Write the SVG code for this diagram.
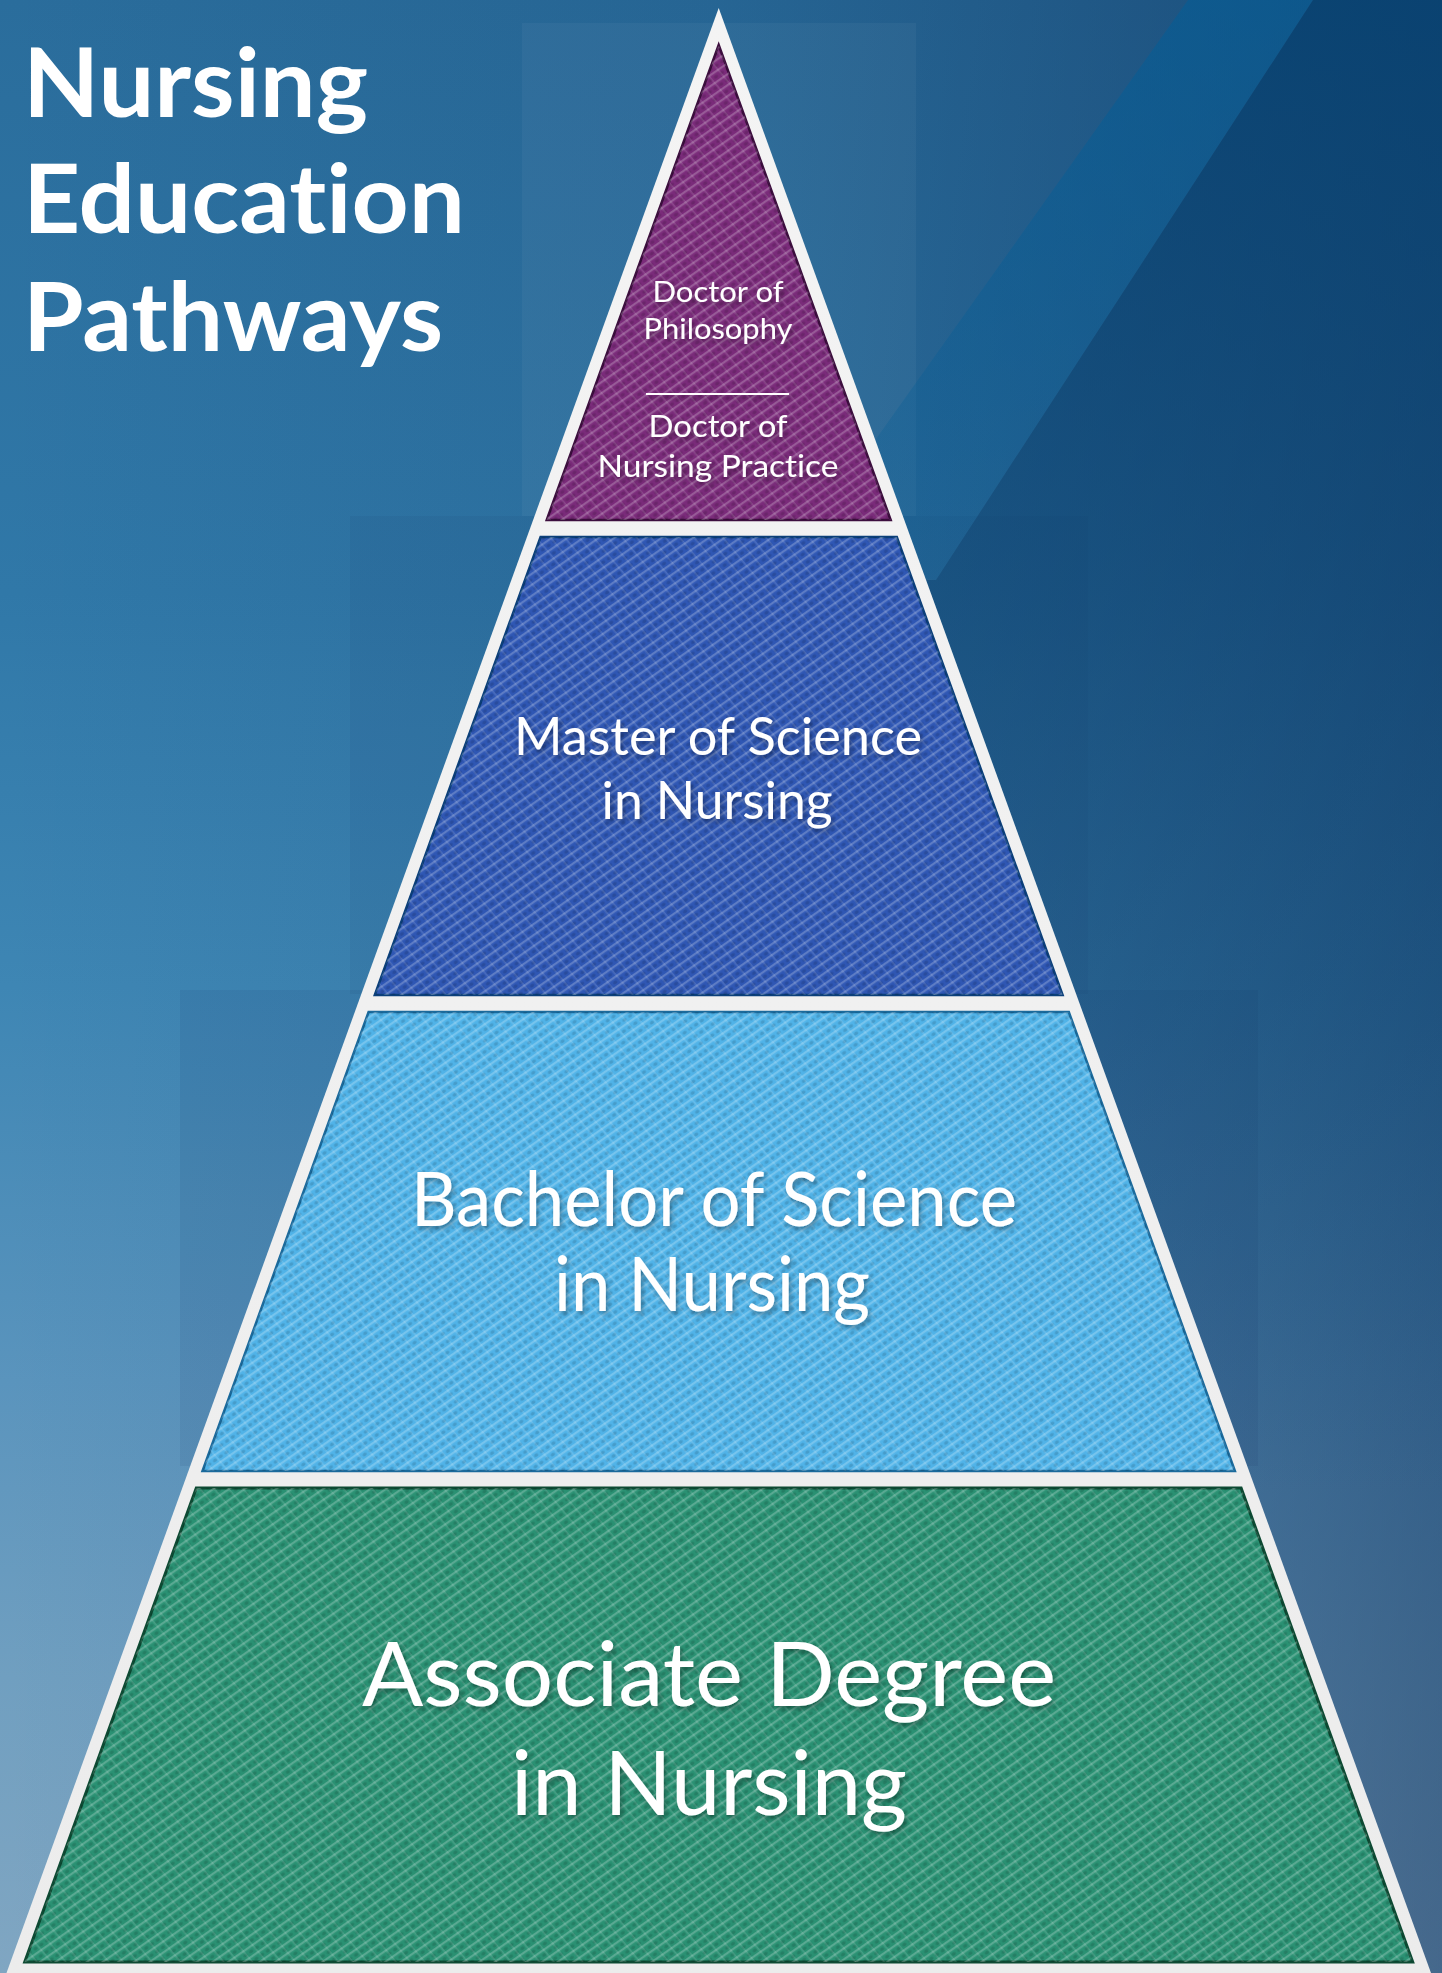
<svg xmlns="http://www.w3.org/2000/svg" width="1442" height="1973" viewBox="0 0 1442 1973">
  <defs>
    <linearGradient id="bgV" x1="0" y1="0" x2="0" y2="1">
      <stop offset="0" stop-color="#2a6d9c"/>
      <stop offset="0.3" stop-color="#3078a8"/>
      <stop offset="0.5" stop-color="#3e86b4"/>
      <stop offset="0.7" stop-color="#5a94bd"/>
      <stop offset="0.85" stop-color="#709fc0"/>
      <stop offset="1" stop-color="#80a6c2"/>
    </linearGradient>
    <linearGradient id="bgH" x1="0" y1="0" x2="1" y2="0">
      <stop offset="0" stop-color="#0a2a55" stop-opacity="0"/>
      <stop offset="0.5" stop-color="#0a2a55" stop-opacity="0.12"/>
      <stop offset="1" stop-color="#0a2a55" stop-opacity="0.5"/>
    </linearGradient>
    <linearGradient id="wedge" gradientUnits="userSpaceOnUse" x1="0" y1="0" x2="0" y2="1500">
      <stop offset="0" stop-color="#06406f" stop-opacity="0.8"/>
      <stop offset="0.5" stop-color="#0c3f6c" stop-opacity="0.35"/>
      <stop offset="1" stop-color="#0c3f6c" stop-opacity="0"/>
    </linearGradient>
    <linearGradient id="band" gradientUnits="userSpaceOnUse" x1="0" y1="0" x2="0" y2="600">
      <stop offset="0" stop-color="#045d96" stop-opacity="0.6"/>
      <stop offset="1" stop-color="#045d96" stop-opacity="0.15"/>
    </linearGradient>
    <linearGradient id="white" x1="0" y1="0" x2="0" y2="1">
      <stop offset="0" stop-color="#f4f4f4"/>
      <stop offset="1" stop-color="#ececec"/>
    </linearGradient>
    <pattern id="weaveA" width="7" height="9" patternUnits="userSpaceOnUse" patternTransform="rotate(-35)">
      <rect width="7" height="2.2" fill="#ffffff" opacity="0.22"/>
      <ellipse cx="3.5" cy="5.6" rx="2.3" ry="1.7" fill="#000000" opacity="0.13"/>
    </pattern>
    <pattern id="weaveB" width="11" height="11" patternUnits="userSpaceOnUse" patternTransform="rotate(50)">
      <rect width="11" height="1.6" fill="#ffffff" opacity="0.13"/>
    </pattern>
    <filter id="shadow" x="-10%" y="-20%" width="120%" height="140%">
      <feDropShadow dx="2" dy="3" stdDeviation="2.5" flood-color="#000000" flood-opacity="0.35"/>
    </filter>
    <style>
      text { font-variant-ligatures: none; font-feature-settings: "liga" 0, "clig" 0; }
      .title { font-family: Lato, "Open Sans", sans-serif; font-weight: 700; font-size: 96px; fill: #ffffff; }
      .lbl { font-family: Lato, "Open Sans", sans-serif; font-weight: 400; fill: #ffffff; text-anchor: middle; }
      .tex { fill: url(#weaveA); }
      .tex2 { fill: url(#weaveB); }
    </style>
  </defs>

  <g id="background">
    <rect width="1442" height="1973" fill="url(#bgV)"/>
    <rect width="1442" height="1973" fill="url(#bgH)"/>
    <rect x="522" y="23" width="394" height="493" fill="#ffffff" opacity="0.04"/>
    <rect x="350" y="516" width="738" height="478" fill="#0a2a55" opacity="0.06"/>
    <rect x="180" y="990" width="1078" height="476" fill="#0a2a55" opacity="0.08"/>
    <polygon points="1188,0 1313,0 936,580 790,560" fill="url(#band)"/>
    <polygon points="1313,0 1442,0 1442,1973 1431,1973 926,580 936,580" fill="url(#wedge)"/>
  </g>

  <g id="title">
    <text class="title" x="23" y="117" textLength="345" lengthAdjust="spacingAndGlyphs">Nursing</text>
    <text class="title" x="23" y="233" textLength="442" lengthAdjust="spacingAndGlyphs">Education</text>
    <text class="title" x="23" y="351" textLength="420" lengthAdjust="spacingAndGlyphs">Pathways</text>
  </g>

  <g id="pyramid-frame">
    <polygon points="718.7,8 1431,1973 6.5,1973" fill="url(#white)"/>
  </g>

  <g id="node-doctoral">
    <polygon points="718.7,45 890.7,520 546.7,520" fill="#7a2b7a" stroke="#3c0e3e" stroke-width="2.5"/>
    <polygon points="718.7,45 890.7,520 546.7,520" class="tex"/>
    <polygon points="718.7,45 890.7,520 546.7,520" class="tex2"/>
    <g filter="url(#shadow)">
      <text class="lbl" x="718" y="302" font-size="28" textLength="131" lengthAdjust="spacingAndGlyphs">Doctor of</text>
      <text class="lbl" x="718" y="339" font-size="28" textLength="149" lengthAdjust="spacingAndGlyphs">Philosophy</text>
      <line x1="646" y1="394" x2="789" y2="394" stroke="#ffffff" stroke-width="2.2"/>
      <text class="lbl" x="718" y="437" font-size="30" textLength="139" lengthAdjust="spacingAndGlyphs">Doctor of</text>
      <text class="lbl" x="718" y="477" font-size="30" textLength="241" lengthAdjust="spacingAndGlyphs">Nursing Practice</text>
    </g>
  </g>

  <g id="node-masters">
    <polygon points="540.6,537 896.8,537 1062.6,995 374.8,995" fill="#2f57b4" stroke="#0b3f7a" stroke-width="2.5"/>
    <polygon points="540.6,537 896.8,537 1062.6,995 374.8,995" class="tex"/>
    <polygon points="540.6,537 896.8,537 1062.6,995 374.8,995" class="tex2"/>
    <g filter="url(#shadow)">
      <text class="lbl" x="718" y="755" font-size="52" textLength="408" lengthAdjust="spacingAndGlyphs">Master of Science</text>
      <text class="lbl" x="717" y="819" font-size="52" textLength="231" lengthAdjust="spacingAndGlyphs">in Nursing</text>
    </g>
  </g>

  <g id="node-bachelors">
    <polygon points="368.6,1012 1068.8,1012 1234.9,1471 202.5,1471" fill="#50b3e8" stroke="#1a6a9c" stroke-width="2.5"/>
    <polygon points="368.6,1012 1068.8,1012 1234.9,1471 202.5,1471" class="tex"/>
    <polygon points="368.6,1012 1068.8,1012 1234.9,1471 202.5,1471" class="tex2"/>
    <g filter="url(#shadow)">
      <text class="lbl" x="714" y="1226" font-size="76" textLength="606" lengthAdjust="spacingAndGlyphs">Bachelor of Science</text>
      <text class="lbl" x="712" y="1311" font-size="76" textLength="316" lengthAdjust="spacingAndGlyphs">in Nursing</text>
    </g>
  </g>

  <g id="node-associate">
    <polygon points="196.3,1488 1241.1,1488 1412.7,1962 24.7,1962" fill="#2a9173" stroke="#0d4a33" stroke-width="3"/>
    <polygon points="196.3,1488 1241.1,1488 1412.7,1962 24.7,1962" class="tex"/>
    <polygon points="196.3,1488 1241.1,1488 1412.7,1962 24.7,1962" class="tex2"/>
    <g filter="url(#shadow)">
      <text class="lbl" x="709" y="1706" font-size="90" textLength="694" lengthAdjust="spacingAndGlyphs">Associate Degree</text>
      <text class="lbl" x="709" y="1815" font-size="90" textLength="396" lengthAdjust="spacingAndGlyphs">in Nursing</text>
    </g>
  </g>
</svg>
